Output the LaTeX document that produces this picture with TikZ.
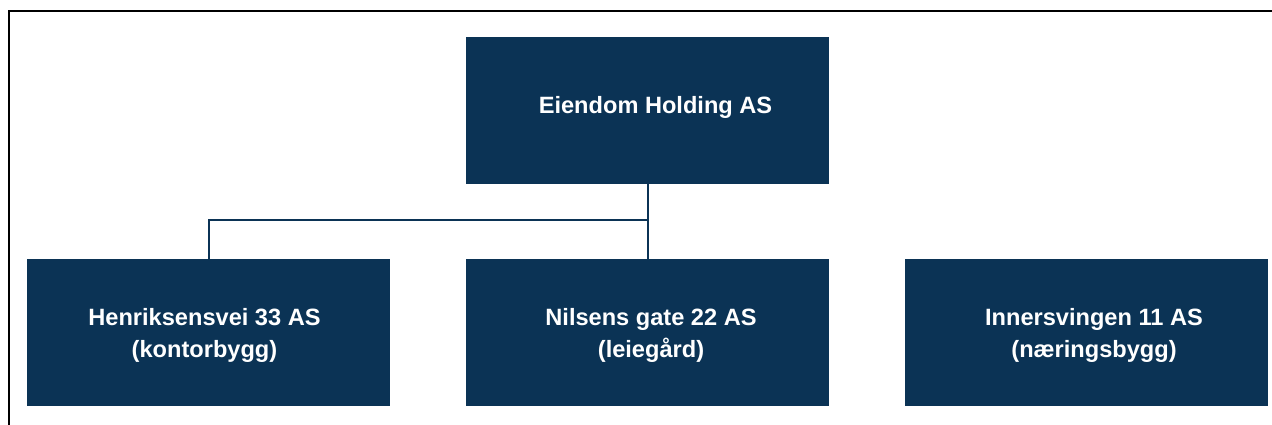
\documentclass[tikz,border=0pt]{standalone}
\usepackage{fontspec}
\setmainfont{Liberation Sans}
\definecolor{navy}{RGB}{11,51,85}
\begin{document}
\begin{tikzpicture}[x=1pt,y=-1pt,
  orgbox/.style={fill=navy,draw=none,inner sep=0pt,minimum width=363pt,minimum height=147pt},
  orglabel/.style={text=white,anchor=base,align=center,inner sep=0pt,
    font=\fontsize{23.6}{32}\selectfont\bfseries},
  link/.style={draw=navy,line width=2pt}]
  \useasboundingbox (0,0) rectangle (1272,425);
  % open frame: top and left edges only
  \draw[line width=2pt,black] (9,425) -- (9,11) -- (1272,11);

  % boxes
  \node[orgbox] (top)   at (647.5,110.5) {};
  \node[orgbox] (left)  at (208.5,332.3) {};
  \node[orgbox] (mid)   at (647.5,332.3) {};
  \node[orgbox] (right) at (1086.5,332.3) {};

  % labels (anchored on the baseline of the last line)
  \node[orglabel] (ttop)   at (655.5,114) {Eiendom Holding AS};
  \node[orglabel] (tleft)  at (204.5,357) {Henriksensvei 33 AS\\(kontorbygg)};
  \node[orglabel] (tmid)   at (651,357) {Nilsens gate 22 AS\\(leiegård)};
  \node[orglabel] (tright) at (1094,357) {Innersvingen 11 AS\\(næringsbygg)};

  % connectors
  \coordinate (bus) at (647.5,220);
  \draw[link] (top.south) -- (mid.north);
  \draw[link] (bus) -| (left.north);
\end{tikzpicture}
\end{document}
